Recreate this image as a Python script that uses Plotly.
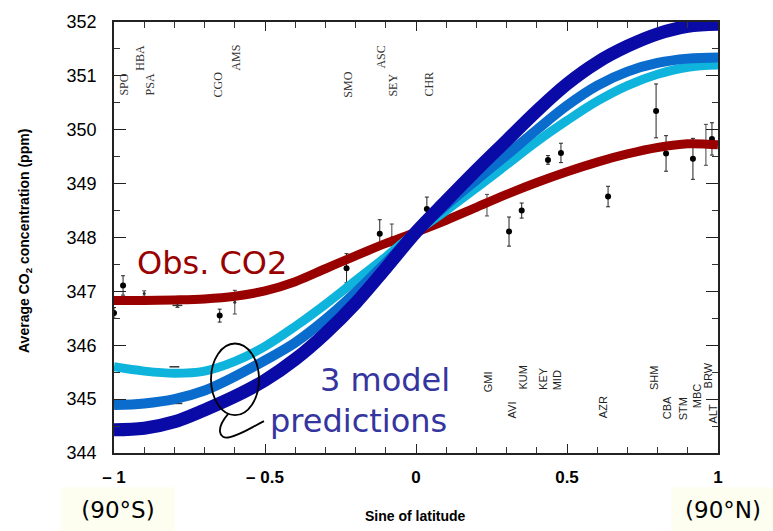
import plotly.graph_objects as go

# ---------------- data ----------------
sin_lat = [-1.0, -0.9, -0.8, -0.7, -0.6, -0.5, -0.4, -0.3, -0.2, -0.1, 0.0,
           0.1, 0.2, 0.3, 0.4, 0.5, 0.6, 0.7, 0.8, 0.9, 1.0]

obs_co2 = [346.83, 346.83, 346.84, 346.86, 346.91, 347.01, 347.18, 347.42, 347.66, 347.89, 348.10,
           348.32, 348.56, 348.80, 349.02, 349.22, 349.40, 349.55, 349.67, 349.74, 349.72]

model_cyan = [345.60, 345.52, 345.48, 345.52, 345.70, 345.98, 346.35, 346.76, 347.20, 347.64, 348.10,
              348.50, 348.92, 349.35, 349.78, 350.17, 350.53, 350.82, 351.03, 351.16, 351.20]

model_mid = [344.89, 344.92, 345.00, 345.16, 345.42, 345.72, 346.05, 346.48, 346.98, 347.53, 348.10,
             348.60, 349.07, 349.53, 350.00, 350.45, 350.82, 351.08, 351.24, 351.32, 351.34]

model_dark = [344.43, 344.46, 344.58, 344.80, 345.05, 345.35, 345.74, 346.22, 346.78, 347.43, 348.10,
              348.68, 349.25, 349.80, 350.35, 350.85, 351.25, 351.55, 351.78, 351.92, 351.96]

# observed station means with error bars
pt_x = [-1.00, -0.97, -0.90, -0.79, -0.65, -0.60, -0.23, -0.12, -0.08, 0.036,
        0.235, 0.308, 0.35, 0.437, 0.48, 0.636, 0.795, 0.828, 0.917, 0.96, 0.98]
pt_y = [346.60, 347.11, 346.96, 346.74, 346.55, 346.80, 347.43, 348.07, 348.00, 348.53,
        348.60, 348.11, 348.50, 349.44, 349.57, 348.76, 350.35, 349.56, 349.46, 349.72, 349.83]
pt_err = [0.10, 0.18, 0.05, 0.04, 0.12, 0.22, 0.27, 0.26, 0.25, 0.22,
          0.20, 0.27, 0.14, 0.08, 0.18, 0.19, 0.50, 0.33, 0.38, 0.38, 0.30]
pt_show = [1, 1, 0, 0, 1, 0, 1, 1, 0, 1,
           0, 1, 1, 1, 1, 1, 1, 1, 1, 0, 1]

# small tick marks of other series in the original figure
mark_x = [-0.79, -0.80, -0.79, -1.0]
mark_y = [346.74, 345.60, 344.92, 345.55]

# station labels (sine of latitude, label height in ppm)
top_names = ["SPO", "HBA", "PSA", "CGO", "AMS", "SMO", "ASC", "SEY", "CHR"]
top_x = [-0.970, -0.917, -0.881, -0.656, -0.599, -0.228, -0.119, -0.076, 0.040]
top_y = [350.84, 351.34, 350.84, 350.84, 351.34, 350.84, 351.34, 350.82, 350.84]

bot_names = ["GMI", "AVI", "KUM", "KEY", "MID", "AZR", "SHM", "CBA", "STM", "MBC", "BRW", "ALT"]
bot_x = [0.238, 0.318, 0.354, 0.420, 0.467, 0.619, 0.788, 0.831, 0.884, 0.930, 0.967, 0.985]
bot_y = [345.33, 344.79, 345.40, 345.39, 345.35, 344.85, 345.39, 344.85, 344.83, 345.07, 345.44, 344.74]

x_tickvals = [-1, -0.5, 0, 0.5, 1]
x_ticktext = ["<b>\u2013 1</b>", "<b>\u2013 0.5</b>", "<b>0</b>", "<b>0.5</b>", "<b>1</b>"]
y_tickvals = [344, 345, 346, 347, 348, 349, 350, 351, 352]

# ---------------- figure ----------------
W, H = 773, 531
L, R, T, B = 114, 55, 20, 78


def pxx(px):
    return (px - L) / (W - L - R)


def pxy(py):
    return (H - B - py) / (H - T - B)


fig = go.Figure()

fig.add_trace(go.Scatter(
    x=[x for x, s in zip(pt_x, pt_show) if s], y=[y for y, s in zip(pt_y, pt_show) if s],
    mode="markers", marker=dict(color="black", size=6),
    error_y=dict(type="data", array=[e for e, s in zip(pt_err, pt_show) if s],
                 color="#222", thickness=1, width=2),
    showlegend=False))
fig.add_trace(go.Scatter(
    x=[x for x, s in zip(pt_x, pt_show) if not s], y=[y for y, s in zip(pt_y, pt_show) if not s],
    mode="markers", marker=dict(color="#333", size=3),
    error_y=dict(type="data", array=[e for e, s in zip(pt_err, pt_show) if not s],
                 color="#444", thickness=1, width=2),
    showlegend=False))
fig.add_trace(go.Scatter(
    x=mark_x, y=mark_y, mode="markers",
    marker=dict(symbol="line-ew", size=7, line=dict(color="#333", width=1.5)),
    showlegend=False))

for ys, col, wid in [(obs_co2, "#990000", 9), (model_cyan, "#0fb4dc", 9),
                     (model_mid, "#0a6ccc", 10), (model_dark, "#0a0aa6", 13)]:
    fig.add_trace(go.Scatter(x=sin_lat, y=ys, mode="lines",
                             line=dict(color=col, width=wid, shape="spline", smoothing=1.0),
                             showlegend=False))

annotations = []
for n, x, y in zip(top_names, top_x, top_y):
    annotations.append(dict(x=x, y=y, xref="x", yref="y", text=n, showarrow=False, textangle=-90,
                            font=dict(family="Liberation Serif", size=12, color="#333")))
for n, x, y in zip(bot_names, bot_x, bot_y):
    annotations.append(dict(x=x, y=y, xref="x", yref="y", text=n, showarrow=False, textangle=-90,
                            font=dict(family="Liberation Sans", size=11, color="#222")))

annotations += [
    dict(x=pxx(135), y=pxy(262), xref="paper", yref="paper", xanchor="left", yanchor="middle",
         text="Obs. CO2", showarrow=False, font=dict(family="DejaVu Sans", size=32, color="#990000")),
    dict(x=pxx(452), y=pxy(380), xref="paper", yref="paper", xanchor="right", yanchor="middle",
         text="3 model", showarrow=False, font=dict(family="DejaVu Sans", size=32, color="#3535a0")),
    dict(x=pxx(449), y=pxy(421), xref="paper", yref="paper", xanchor="right", yanchor="middle",
         text="predictions", showarrow=False, font=dict(family="DejaVu Sans", size=32, color="#3535a0")),
    dict(x=pxx(118), y=pxy(510), xref="paper", yref="paper", xanchor="center", yanchor="middle",
         text="(90°S)", showarrow=False, width=110, height=42, bgcolor="#fdfdf0",
         font=dict(family="DejaVu Sans", size=23, color="black")),
    dict(x=pxx(723), y=pxy(510), xref="paper", yref="paper", xanchor="center", yanchor="middle",
         text="(90°N)", showarrow=False, width=100, height=42, bgcolor="#fdfdf0",
         font=dict(family="DejaVu Sans", size=23, color="black")),
    dict(x=pxx(415), y=pxy(516), xref="paper", yref="paper", xanchor="center", yanchor="middle",
         text="<b>Sine of latitude</b>", showarrow=False,
         font=dict(family="Liberation Sans", size=14, color="black")),
    dict(x=pxx(25), y=pxy(240), xref="paper", yref="paper", xanchor="center", yanchor="middle",
         text="<b>Average CO<sub>2</sub> concentration (ppm)</b>", showarrow=False, textangle=-90,
         font=dict(family="Liberation Sans", size=14, color="black")),
]

shapes = [
    dict(type="circle", xref="paper", yref="paper", x0=pxx(211), x1=pxx(259), y0=pxy(415), y1=pxy(343),
         line=dict(color="black", width=1.8)),
    dict(type="path", xref="paper", yref="paper",
         path="M {:.4f},{:.4f} C {:.4f},{:.4f} {:.4f},{:.4f} {:.4f},{:.4f} S {:.4f},{:.4f} {:.4f},{:.4f}".format(
             pxx(228), pxy(414), pxx(216), pxy(428), pxx(218), pxy(440), pxx(230), pxy(437),
             pxx(250), pxy(428), pxx(264), pxy(421)),
         line=dict(color="black", width=1.8)),
]

fig.update_layout(
    width=W, height=H, margin=dict(l=L, r=R, t=T, b=B),
    paper_bgcolor="white", plot_bgcolor="white",
    annotations=annotations, shapes=shapes,
    xaxis=dict(range=[-1, 1], tickvals=x_tickvals, ticktext=x_ticktext,
               showgrid=False, zeroline=False, showline=True, linecolor="#222", linewidth=1.5,
               mirror="ticks", ticks="inside", ticklen=9, tickcolor="#222",
               minor=dict(dtick=0.1, ticks="inside", ticklen=6, tickcolor="#333", showgrid=False),
               tickfont=dict(family="Liberation Sans", size=17, color="black"), ticklabelstandoff=8),
    yaxis=dict(range=[344, 352], tickvals=y_tickvals,
               showgrid=False, zeroline=False, showline=True, linecolor="#222", linewidth=1.5,
               mirror="ticks", ticks="inside", ticklen=12, tickcolor="#222",
               minor=dict(dtick=0.5, ticks="inside", ticklen=6, tickcolor="#333", showgrid=False),
               tickfont=dict(family="Liberation Sans", size=18, color="black"), ticklabelstandoff=12),
)

fig.write_html("out.html", config={"displayModeBar": False},
               post_script="document.body.style.margin='0';document.body.style.overflow='hidden';")
